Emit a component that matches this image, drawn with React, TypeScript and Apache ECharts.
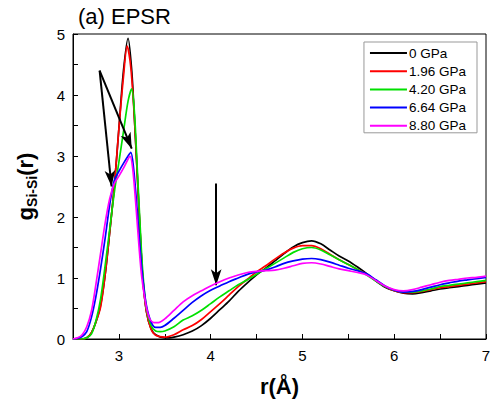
import React, { useEffect, useRef } from "react";
import * as echarts from "echarts";

const seriesNames = ["0 GPa", "1.96 GPa", "4.20 GPa", "6.64 GPa", "8.80 GPa"];
const seriesColors = ["#000000", "#ff0000", "#00e000", "#0000ff", "#ff00ff"];

const g0: number[][] = [
  [2.5, 0], [2.6, 0], [2.65, 0.02], [2.7, 0.1], [2.75, 0.28], [2.8, 0.55], [2.85, 1.05], [2.9, 1.75],
  [2.95, 2.5], [3.0, 3.45], [3.05, 4.4], [3.1, 4.93], [3.14, 4.4], [3.17, 3.6], [3.2, 2.7], [3.23, 1.8],
  [3.26, 1.0], [3.3, 0.45], [3.35, 0.17], [3.4, 0.07], [3.5, 0.02], [3.55, 0.02], [3.6, 0.03], [3.7, 0.07],
  [3.8, 0.13], [3.9, 0.22], [4.0, 0.34], [4.1, 0.48], [4.2, 0.62], [4.3, 0.78], [4.4, 0.92], [4.5, 1.05],
  [4.6, 1.16], [4.7, 1.28], [4.8, 1.4], [4.9, 1.51], [5.0, 1.58], [5.1, 1.61], [5.2, 1.56], [5.3, 1.46],
  [5.4, 1.36], [5.5, 1.28], [5.6, 1.18], [5.7, 1.07], [5.8, 0.95], [5.9, 0.85], [6.0, 0.79], [6.1, 0.75],
  [6.2, 0.74], [6.3, 0.76], [6.4, 0.79], [6.5, 0.82], [6.6, 0.84], [6.7, 0.86], [6.8, 0.88], [6.9, 0.9], [7.0, 0.92],
];
const g196: number[][] = [
  [2.5, 0], [2.6, 0], [2.65, 0.02], [2.7, 0.1], [2.75, 0.28], [2.8, 0.52], [2.85, 1.05], [2.9, 1.75],
  [2.95, 2.5], [3.0, 3.45], [3.05, 4.3], [3.09, 4.8], [3.13, 4.45], [3.17, 3.6], [3.2, 2.7], [3.23, 1.8],
  [3.26, 1.0], [3.3, 0.45], [3.35, 0.16], [3.4, 0.06], [3.5, 0.03], [3.6, 0.07], [3.7, 0.15], [3.8, 0.22],
  [3.9, 0.32], [4.0, 0.45], [4.1, 0.58], [4.2, 0.72], [4.3, 0.86], [4.4, 0.98], [4.5, 1.1], [4.6, 1.2],
  [4.7, 1.31], [4.8, 1.41], [4.9, 1.49], [5.0, 1.53], [5.1, 1.53], [5.2, 1.48], [5.3, 1.39], [5.4, 1.3],
  [5.5, 1.22], [5.6, 1.14], [5.7, 1.06], [5.8, 0.96], [5.9, 0.86], [6.0, 0.79], [6.1, 0.76], [6.2, 0.76],
  [6.3, 0.78], [6.4, 0.81], [6.5, 0.84], [6.6, 0.86], [6.7, 0.88], [6.8, 0.9], [6.9, 0.92], [7.0, 0.94],
];
const g420: number[][] = [
  [2.5, 0], [2.6, 0], [2.65, 0.02], [2.7, 0.08], [2.75, 0.3], [2.8, 0.65], [2.85, 1.2], [2.9, 1.8],
  [2.95, 2.4], [3.0, 2.9], [3.05, 3.4], [3.1, 3.9], [3.14, 4.1], [3.17, 3.7], [3.2, 2.8], [3.23, 1.9],
  [3.26, 1.1], [3.3, 0.5], [3.35, 0.22], [3.4, 0.13], [3.45, 0.12], [3.5, 0.13], [3.6, 0.2], [3.7, 0.31],
  [3.8, 0.38], [3.9, 0.47], [4.0, 0.58], [4.1, 0.69], [4.2, 0.79], [4.3, 0.89], [4.4, 0.97], [4.5, 1.06],
  [4.6, 1.15], [4.7, 1.24], [4.8, 1.33], [4.9, 1.42], [5.0, 1.48], [5.1, 1.5], [5.2, 1.46], [5.3, 1.38],
  [5.4, 1.3], [5.5, 1.22], [5.6, 1.14], [5.7, 1.05], [5.8, 0.95], [5.9, 0.86], [6.0, 0.8], [6.1, 0.77],
  [6.2, 0.77], [6.3, 0.79], [6.4, 0.82], [6.5, 0.86], [6.6, 0.88], [6.7, 0.9], [6.8, 0.92], [6.9, 0.94], [7.0, 0.96],
];
const g664: number[][] = [
  [2.5, 0], [2.55, 0.01], [2.6, 0.04], [2.65, 0.12], [2.7, 0.35], [2.75, 0.7], [2.8, 1.15], [2.85, 1.65],
  [2.9, 2.2], [2.95, 2.6], [3.0, 2.75], [3.05, 2.88], [3.1, 3.0], [3.13, 3.06], [3.16, 2.8], [3.2, 2.1],
  [3.23, 1.5], [3.26, 1.0], [3.3, 0.55], [3.35, 0.28], [3.4, 0.19], [3.45, 0.19], [3.5, 0.22], [3.6, 0.34],
  [3.7, 0.47], [3.8, 0.6], [3.9, 0.71], [4.0, 0.8], [4.1, 0.87], [4.2, 0.94], [4.3, 1.0], [4.4, 1.06],
  [4.5, 1.1], [4.6, 1.13], [4.7, 1.18], [4.8, 1.24], [4.9, 1.28], [5.0, 1.31], [5.1, 1.32], [5.2, 1.3],
  [5.3, 1.26], [5.4, 1.21], [5.5, 1.16], [5.6, 1.12], [5.7, 1.07], [5.8, 0.97], [5.9, 0.87], [6.0, 0.8],
  [6.1, 0.77], [6.2, 0.78], [6.3, 0.81], [6.4, 0.85], [6.5, 0.89], [6.6, 0.92], [6.7, 0.95], [6.8, 0.97], [6.9, 0.99], [7.0, 1.01],
];
const g880: number[][] = [
  [2.5, 0], [2.55, 0.02], [2.6, 0.07], [2.65, 0.2], [2.7, 0.45], [2.75, 0.9], [2.8, 1.4], [2.85, 1.9],
  [2.9, 2.3], [2.95, 2.55], [3.0, 2.67], [3.05, 2.8], [3.1, 2.95], [3.12, 3.0], [3.15, 2.8], [3.19, 2.1],
  [3.22, 1.5], [3.25, 1.0], [3.29, 0.6], [3.33, 0.35], [3.38, 0.27], [3.43, 0.27], [3.5, 0.33], [3.6, 0.47],
  [3.7, 0.61], [3.8, 0.71], [3.9, 0.79], [4.0, 0.87], [4.1, 0.94], [4.2, 1.0], [4.3, 1.05], [4.4, 1.09],
  [4.5, 1.11], [4.6, 1.12], [4.7, 1.13], [4.8, 1.16], [4.9, 1.2], [5.0, 1.24], [5.1, 1.25], [5.2, 1.23],
  [5.3, 1.19], [5.4, 1.15], [5.5, 1.12], [5.6, 1.09], [5.7, 1.05], [5.8, 0.96], [5.9, 0.87], [6.0, 0.81],
  [6.1, 0.79], [6.2, 0.81], [6.3, 0.85], [6.4, 0.89], [6.5, 0.93], [6.6, 0.96], [6.7, 0.98], [6.8, 1.0], [6.9, 1.01], [7.0, 1.03],
];
const seriesData = [g0, g196, g420, g664, g880];

// annotation arrows: [start, end] in data coordinates
const arrows: number[][][] = [
  [[2.79, 4.4], [2.92, 2.5]],
  [[2.79, 4.4], [3.14, 3.12]],
  [[4.06, 2.55], [4.06, 0.88]],
];

const FONT = "Liberation Sans, Arial, sans-serif";

export default function App() {
  const ref = useRef<HTMLDivElement>(null);
  useEffect(() => {
    if (!ref.current) return;
    const chart = echarts.init(ref.current, null, { renderer: "svg" });
    const lineSeries: any[] = seriesNames.map((name, i) => ({
      name,
      type: "line",
      data: seriesData[i],
      symbol: "none",
      smooth: 0.3,
      lineStyle: { color: seriesColors[i], width: 1.7 },
      itemStyle: { color: seriesColors[i] },
      z: 2 + i,
    }));
    lineSeries.push({
      name: "arrows",
      type: "line",
      data: [],
      z: 20,
      markLine: {
        silent: true,
        symbol: ["none", "arrow"],
        symbolSize: [8, 16],
        label: { show: false },
        lineStyle: { color: "#000", width: 2, type: "solid" },
        data: arrows.map((a) => [{ coord: a[0] }, { coord: a[1] }]),
      },
    });
    chart.setOption({
      animation: false,
      textStyle: { fontFamily: FONT },
      title: {
        text: "(a) EPSR",
        left: 73,
        top: 0,
        textStyle: { fontSize: 22, fontWeight: "normal", color: "#000", fontFamily: FONT },
      },
      legend: {
        data: seriesNames,
        orient: "vertical",
        right: 17,
        top: 42,
        icon: "rect",
        itemWidth: 37,
        itemHeight: 2,
        itemGap: 4.2,
        padding: [4, 11, 0, 6],
        borderColor: "#999",
        borderWidth: 1,
        textStyle: { fontSize: 13.5, color: "#000", fontFamily: FONT, padding: [0, 0, 0, -3] },
      },
      grid: {
        left: 73,
        right: 8,
        top: 34,
        bottom: 73,
        show: true,
        borderColor: "#000",
        borderWidth: 1,
        backgroundColor: "transparent",
      },
      xAxis: {
        type: "value",
        min: 2.5,
        max: 7,
        interval: 0.5,
        name: "r(Å)",
        nameLocation: "middle",
        nameGap: 36,
        nameTextStyle: { fontSize: 22, fontWeight: "bold", color: "#000", fontFamily: FONT },
        axisLine: { show: true, lineStyle: { color: "#000", width: 1 } },
        axisTick: { show: true, inside: true, length: 5, lineStyle: { color: "#000" } },
        axisLabel: {
          fontSize: 15,
          color: "#000",
          margin: 9,
          formatter: (v: number) => (Math.abs(v - Math.round(v)) < 1e-9 ? String(Math.round(v)) : ""),
        },
        splitLine: { show: false },
      },
      yAxis: {
        type: "value",
        min: 0,
        max: 5,
        interval: 0.5,
        name: "{a|g}{b|Si-Si}{a|(r)}",
        nameLocation: "middle",
        nameRotate: 90,
        nameGap: 34,
        nameTextStyle: {
          color: "#000",
          fontFamily: FONT,
          rich: {
            a: { fontSize: 22, fontWeight: "bold", color: "#000", fontFamily: FONT },
            b: { fontSize: 14, fontWeight: "bold", color: "#000", fontFamily: FONT, padding: [14, 0, 0, 0] },
          },
        },
        axisLine: { show: true, lineStyle: { color: "#000", width: 1 } },
        axisTick: { show: true, inside: true, length: 5, lineStyle: { color: "#000" } },
        axisLabel: {
          fontSize: 15,
          color: "#000",
          margin: 8,
          formatter: (v: number) => (Math.abs(v - Math.round(v)) < 1e-9 ? String(Math.round(v)) : ""),
        },
        splitLine: { show: false },
      },
      series: lineSeries,
    });
    return () => chart.dispose();
  }, []);
  return (
    <div style={{ position: "absolute", left: 0, top: 0 }}>
      <div ref={ref} style={{ width: 494, height: 412 }} />
    </div>
  );
}
